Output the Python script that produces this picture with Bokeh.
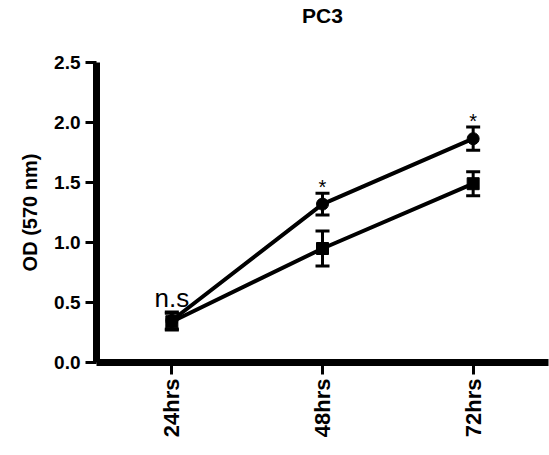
from bokeh.plotting import figure
from bokeh.models import FixedTicker, ColumnDataSource, Whisker, TeeHead, Range1d, LinearAxis
from bokeh.embed import file_html
from bokeh.resources import INLINE
from bokeh.core.properties import value
import math

# ---- data ----
times = ["24hrs", "48hrs", "72hrs"]
xpos = [1, 2, 3]
circle_mean = [0.35, 1.32, 1.865]
circle_sem = [0.07, 0.09, 0.097]
square_mean = [0.34, 0.95, 1.49]
square_sem = [0.07, 0.145, 0.10]
annot_text = ["n.s", "*", "*"]
y_ticks = [0.0, 0.5, 1.0, 1.5, 2.0, 2.5]
title_text = "PC3"

FONT = "Liberation Sans"

p = figure(width=549, height=455, output_backend="svg", toolbar_location=None,
           x_range=Range1d(0.5, 3.5), y_range=Range1d(0, 2.5),
           min_border_left=96, min_border_right=1, min_border_top=0,
           min_border_bottom=93)
p.title = None
p.outline_line_color = None
p.grid.visible = False
p.background_fill_color = None
p.background_fill_alpha = 0
p.border_fill_color = "white"

# title drawn as the label of an otherwise empty top axis
top = LinearAxis(ticker=FixedTicker(ticks=[]), axis_label=title_text,
                 axis_line_color=None, major_tick_line_color=None,
                 minor_tick_line_color=None,
                 axis_label_text_font=FONT, axis_label_text_font_size="21px",
                 axis_label_text_font_style="bold",
                 axis_label_text_color="black", axis_label_standoff=36)
p.add_layout(top, "above")

left = p.left[0]
bottom = p.below[0]

for ax in (left, bottom):
    ax.axis_line_width = 7
    ax.major_tick_line_width = 3
    ax.major_tick_in = 0
    ax.minor_tick_line_color = None
    ax.major_label_text_font = FONT
    ax.major_label_text_font_style = "bold"
    ax.major_label_text_color = "black"
    ax.axis_line_color = "black"
    ax.major_tick_line_color = "black"
    ax.axis_label_text_color = "black"

left.ticker = FixedTicker(ticks=y_ticks)
left.major_label_overrides = {t: f"{t:.1f}" for t in y_ticks}
left.major_tick_out = 11
left.major_label_text_font_size = "19px"
left.major_label_standoff = 5
left.axis_label = "OD (570 nm)"
left.axis_label_text_font = FONT
left.axis_label_text_font_style = "bold"
left.axis_label_text_font_size = "20px"
left.axis_label_standoff = 10

bottom.ticker = FixedTicker(ticks=xpos)
bottom.major_label_overrides = {x: t for x, t in zip(xpos, times)}
bottom.major_label_orientation = math.pi / 2
bottom.major_tick_out = 12
bottom.major_label_text_font_size = "22px"
bottom.major_label_standoff = 4

src = ColumnDataSource(dict(
    x=xpos,
    cm=circle_mean,
    c_lo=[m - s for m, s in zip(circle_mean, circle_sem)],
    c_hi=[m + s for m, s in zip(circle_mean, circle_sem)],
    sm=square_mean,
    s_lo=[m - s for m, s in zip(square_mean, square_sem)],
    s_hi=[m + s for m, s in zip(square_mean, square_sem)],
))

p.line("x", "sm", source=src, line_width=4, line_color="black")
p.line("x", "cm", source=src, line_width=4, line_color="black")

for lo, hi in (("c_lo", "c_hi"), ("s_lo", "s_hi")):
    w = Whisker(source=src, base="x", lower=lo, upper=hi, line_width=3,
                line_color="black",
                upper_head=TeeHead(size=14, line_width=3, line_color="black"),
                lower_head=TeeHead(size=14, line_width=3, line_color="black"))
    p.add_layout(w)

p.scatter("x", "sm", source=src, marker="square", size=12, color="black")
p.scatter("x", "cm", source=src, marker="circle", size=12, color="black")

# annotations
ann_y = [max(c, s) + 0.12 if t == "n.s" else c + 0.05
         for c, s, t in zip(src.data["c_hi"], src.data["s_hi"], annot_text)]
ann_size = ["26px" if t == "n.s" else "20px" for t in annot_text]
asrc = ColumnDataSource(dict(x=xpos, y=ann_y, t=annot_text, fs=ann_size))
p.text("x", "y", text="t", source=asrc, text_font=value(FONT),
       text_font_size="fs", text_align="center", text_baseline="alphabetic",
       text_color="black")

open("out.html", "w").write(file_html(p, INLINE))
